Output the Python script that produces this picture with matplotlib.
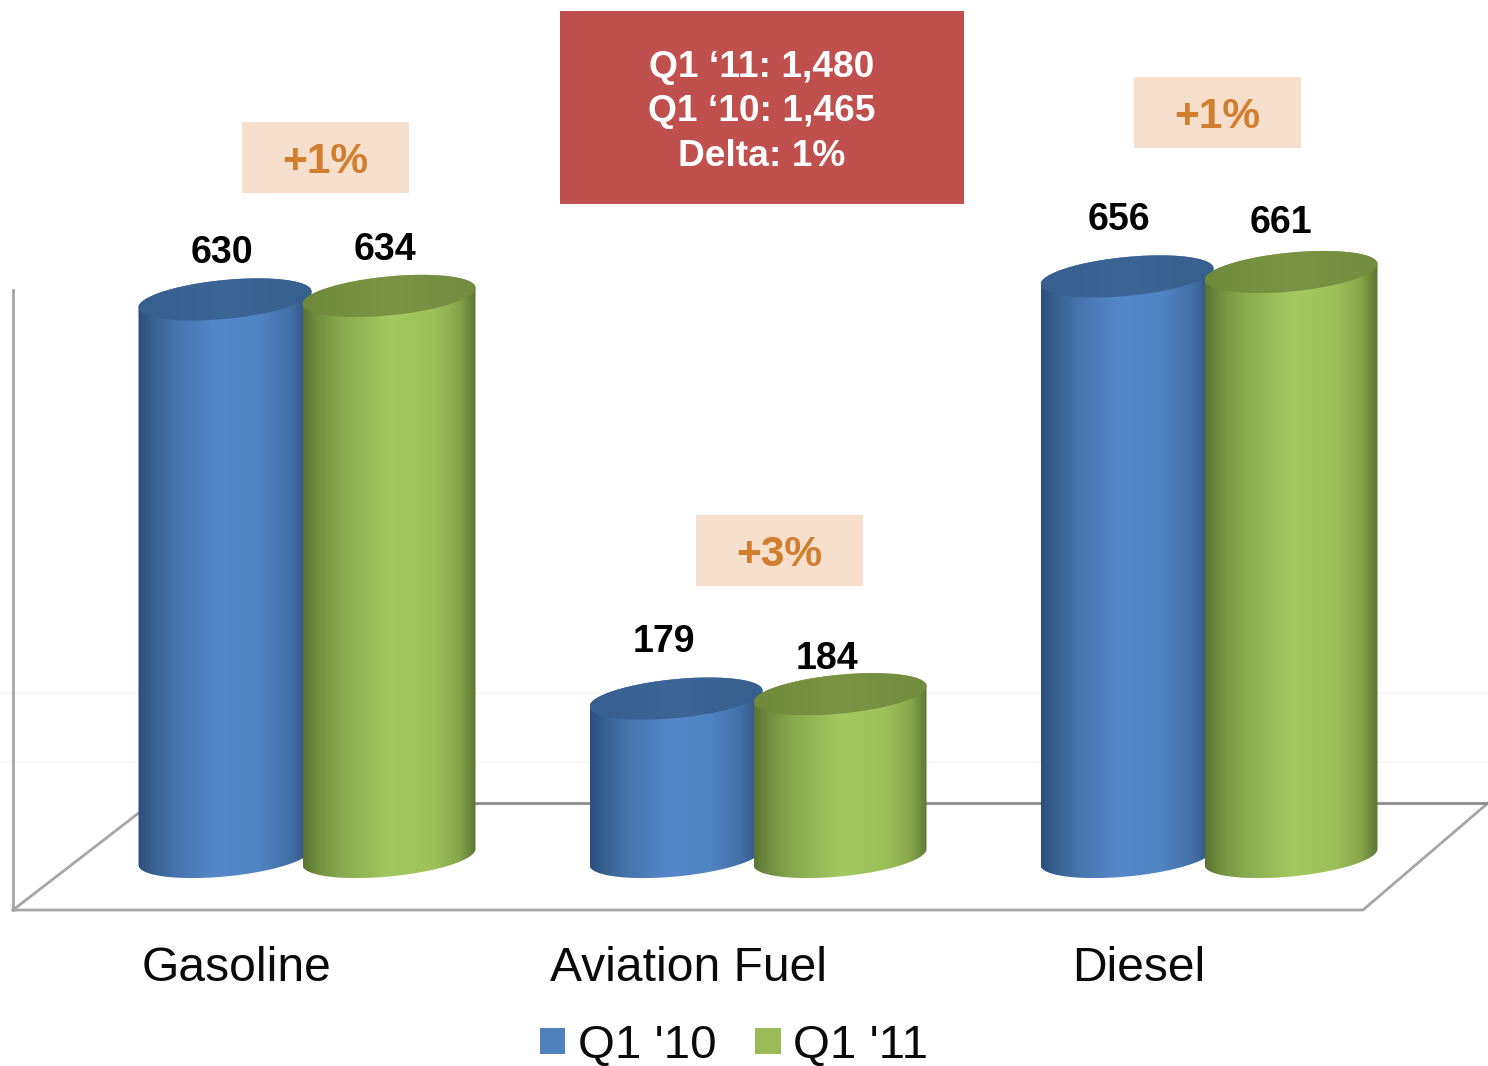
import numpy as np
import matplotlib
matplotlib.use("Agg")
import matplotlib.pyplot as plt
from matplotlib.colors import LinearSegmentedColormap
from matplotlib.patches import Polygon, Rectangle, Patch

# ---------- data ----------
categories = ["Gasoline", "Aviation Fuel", "Diesel"]
series_names = ["Q1 '10", "Q1 '11"]
q1_10 = [630, 179, 656]
q1_11 = [634, 184, 661]
delta_labels = ["+1%", "+3%", "+1%"]
summary_lines = ["Q1 \u201811: 1,480", "Q1 \u201810: 1,465", "Delta: 1%"]

# ---------- layout ----------
W, H = 1488, 1066
PX_Y = 0.885            # pixels per value unit
BASE_Y = 857            # pixel row of value 0
GROUP_X0, GROUP_DX = 307.0, 451.0
plt.rcParams["font.family"] = ["Liberation Sans", "DejaVu Sans"]

fig = plt.figure(figsize=(W / 100, H / 100), dpi=100, facecolor="white")

# pixel-space layer for chart frame and callouts
bg = fig.add_axes([0, 0, 1, 1], zorder=0)
bg.set_xlim(0, W); bg.set_ylim(H, 0); bg.axis("off")
GRID = "#a6a6a6"
for y in (693, 762):
    bg.plot([0, 1488], [y, y], color="#f9f7f5", lw=1.5)
bg.plot([13, 13], [290, 910], color=GRID, lw=2)
bg.plot([13, 1363, 1488], [910, 910, 803], color=GRID, lw=2)
bg.plot([13, 140], [910, 812], color=GRID, lw=2)
bg.plot([140, 1488], [803, 803], color="#8c8c8c", lw=2)

# data layer
ax = fig.add_axes([0, 0, 1, 1], zorder=1)
ax.patch.set_alpha(0)
ax.axis("off")
xlim = (-GROUP_X0 / GROUP_DX, (W - GROUP_X0) / GROUP_DX)
ylim = ((BASE_Y - H) / PX_Y, BASE_Y / PX_Y)

blue_side = LinearSegmentedColormap.from_list("b", [
    (0, "#2c4e7e"), (.08, "#37608f"), (.22, "#4675ac"), (.45, "#5588cb"),
    (.7, "#5084c2"), (.88, "#436fa6"), (1, "#2e4f7c")])
green_side = LinearSegmentedColormap.from_list("g", [
    (0, "#5a7430"), (.08, "#728e40"), (.22, "#88a84e"), (.5, "#a4c860"),
    (.75, "#9ec05a"), (.9, "#88a74c"), (1, "#5c7632")])
blue_top = LinearSegmentedColormap.from_list("bt", ["#37608f", "#3c6696", "#38608e"])
green_top = LinearSegmentedColormap.from_list("gt", ["#6f8a3c", "#7c9345", "#738c3f"])

OFF = 82 / GROUP_DX            # half-distance between paired cylinders
HALF_W = 86.5 / GROUP_DX       # cylinder half-width in category units
RY = 19.5 / PX_Y               # ellipse minor radius in value units
TILT = 8 / PX_Y                # ellipse tilt in value units
ramp = np.linspace(0, 1, 256)[None, :]


def ring(xc, y, t):
    return xc + HALF_W * np.cos(t), y + RY * np.sin(t) + TILT * np.cos(t)


def cylinder(xc, value, side, top, z):
    t_low = np.linspace(np.pi, 2 * np.pi, 90)
    xb, yb = ring(xc, 0, t_low)
    t_up = np.linspace(0, np.pi, 90)
    xt, yt = ring(xc, value, t_up)
    body = Polygon(np.r_[np.c_[xb, yb], np.c_[xt, yt]], closed=True,
                   transform=ax.transData, fc="none", ec="none")
    ax.add_patch(body)
    im = ax.imshow(ramp, cmap=side, aspect="auto", zorder=z, interpolation="bilinear",
                   extent=(xc - HALF_W, xc + HALF_W, -RY - TILT, value + RY + TILT))
    im.set_clip_path(body)
    t = np.linspace(0, 2 * np.pi, 180)
    xc2, yc2 = ring(xc, value, t)
    cap = Polygon(np.c_[xc2, yc2], closed=True, transform=ax.transData,
                  fc="none", ec="none")
    ax.add_patch(cap)
    im2 = ax.imshow(ramp, cmap=top, aspect="auto", zorder=z + 0.5, interpolation="bilinear",
                    extent=(xc - HALF_W, xc + HALF_W, value - RY - TILT, value + RY + TILT))
    im2.set_clip_path(cap)


for i, (a, b) in enumerate(zip(q1_10, q1_11)):
    cylinder(i - OFF, a, blue_side, blue_top, 2 + i)
    cylinder(i + OFF, b, green_side, green_top, 2.7 + i)
ax.set_xlim(*xlim); ax.set_ylim(*ylim)

# value labels
label_offsets = [[(-3, 46), (-4, 46)], [(-12, 57), (-13, 35)], [(-8, 56), (-10, 49)]]
for i, vals in enumerate(zip(q1_10, q1_11)):
    for j, v in enumerate(vals):
        dx, dy = label_offsets[i][j]
        ax.annotate(str(v), (i + (2 * j - 1) * OFF, v), xytext=(dx * .72, dy * .72),
                    textcoords="offset points", ha="center", va="center",
                    fontsize=27, fontweight="bold", color="black", zorder=10)

# category labels
for i, c in enumerate(categories):
    ax.text(i - 70 / GROUP_DX, (BASE_Y - 968.5) / PX_Y, c, ha="center", va="center",
            fontsize=34.6, color="#0a0a0a", zorder=10)

# delta boxes
for (x0, y0), s in zip([(242, 122), (696, 515), (1134, 77)], delta_labels):
    bg.add_patch(Rectangle((x0, y0), 167, 71, fc="#f6dfcd", ec="none"))
    bg.text(x0 + 83.5, y0 + 40, s, ha="center", va="center", fontsize=30.6,
            fontweight="bold", color="#d17f2f")

# summary box
bg.add_patch(Rectangle((560, 11), 404, 193, fc="#c0504d", ec="none"))
for y, s in zip((67.5, 111.5, 156), summary_lines):
    bg.text(761.5, y, s, ha="center", va="center", fontsize=26.7,
            fontweight="bold", color="white")

# legend
handles = [Patch(fc="#4f81bd", ec="none"), Patch(fc="#9bbb59", ec="none")]
ax.legend(handles, series_names, ncol=2, loc="center",
          bbox_to_anchor=(734 / W, 1 - 1046 / H), bbox_transform=fig.transFigure,
          frameon=False, fontsize=34.2, handlelength=0.54, handleheight=0.46,
          handletextpad=0.26, columnspacing=0.82, borderpad=0, labelcolor="#0a0a0a")

fig.savefig("out.png", dpi=100, facecolor="white")
